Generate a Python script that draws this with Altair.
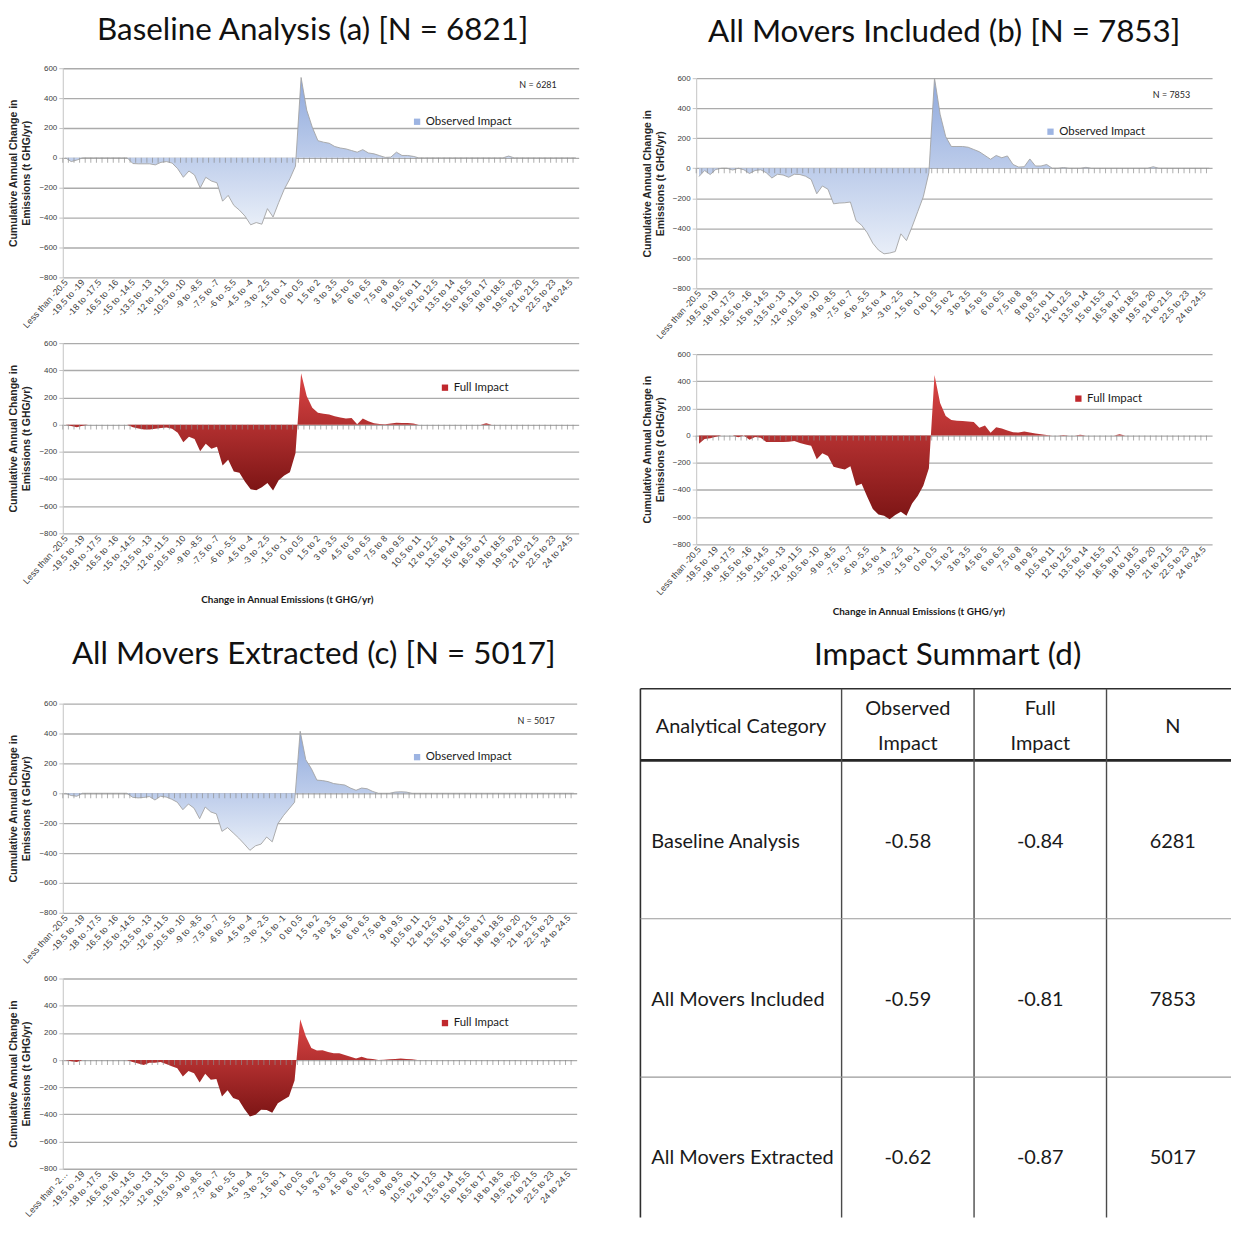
import altair as alt
import pandas as pd

# ---------------- data ----------------
categories = [
    "Less than -20.5", "-20.5 to -20", "-20 to -19.5", "-19.5 to -19", "-19 to -18.5", "-18.5 to -18",
    "-18 to -17.5", "-17.5 to -17", "-17 to -16.5", "-16.5 to -16", "-16 to -15.5", "-15.5 to -15",
    "-15 to -14.5", "-14.5 to -14", "-14 to -13.5", "-13.5 to -13", "-13 to -12.5", "-12.5 to -12",
    "-12 to -11.5", "-11.5 to -11", "-11 to -10.5", "-10.5 to -10", "-10 to -9.5", "-9.5 to -9",
    "-9 to -8.5", "-8.5 to -8", "-8 to -7.5", "-7.5 to -7", "-7 to -6.5", "-6.5 to -6",
    "-6 to -5.5", "-5.5 to -5", "-5 to -4.5", "-4.5 to -4", "-4 to -3.5", "-3.5 to -3",
    "-3 to -2.5", "-2.5 to -2", "-2 to -1.5", "-1.5 to -1", "-1 to -0.5", "-0.5 to 0",
    "0 to 0.5", "0.5 to 1", "1 to 1.5", "1.5 to 2", "2 to 2.5", "2.5 to 3",
    "3 to 3.5", "3.5 to 4", "4 to 4.5", "4.5 to 5", "5 to 5.5", "5.5 to 6",
    "6 to 6.5", "6.5 to 7", "7 to 7.5", "7.5 to 8", "8 to 8.5", "8.5 to 9",
    "9 to 9.5", "9.5 to 10", "10 to 10.5", "10.5 to 11", "11 to 11.5", "11.5 to 12",
    "12 to 12.5", "12.5 to 13", "13 to 13.5", "13.5 to 14", "14 to 14.5", "14.5 to 15",
    "15 to 15.5", "15.5 to 16", "16 to 16.5", "16.5 to 17", "17 to 17.5", "17.5 to 18",
    "18 to 18.5", "18.5 to 19", "19 to 19.5", "19.5 to 20", "20 to 20.5", "20.5 to 21",
    "21 to 21.5", "21.5 to 22", "22 to 22.5", "22.5 to 23", "23 to 23.5", "23.5 to 24",
    "24 to 24.5", "More than 24.5",
]

a_observed = [
    0, -25, -15, 0, 0, 0, 0, 0, 0, 0, 0, 0,
    -38, -40, -40, -40, -47, -30, -25, -35, -73, -130, -88, -115, -202, -130, -155, -167,
    -290, -251, -318, -350, -390, -448, -433, -444, -340, -396, -300, -210, -140, -55,
    538, 320, 205, 115, 105, 98, 76, 66, 60, 49, 38, 55, 33, 27, 15, 3, 5, 38, 16, 16, 10,
    0, 0, 0, 0, 0, 0, 0, 0, 0, 0, 0, 0, 0, 0, 0, 0, 12, 0, 0, 0, 0, 0, 0, 0, 0, 0, 0, 0, 0,
]
a_full = [
    0, -10, -20, -8, 0, 0, 0, 0, 0, 0, 0, 0,
    -20, -28, -35, -35, -30, -25, -22, -30, -60, -130, -90, -105, -195, -140, -178, -162,
    -300, -258, -345, -355, -420, -475, -483, -460, -430, -485, -410, -375, -350, -210,
    378, 210, 125, 88, 80, 75, 62, 53, 46, 48, 2, 45, 25, 10, 5, 3, 8, 14, 12, 12, 8,
    0, 0, 0, 0, 0, 0, 0, 0, 0, 0, 0, 0, 10, 0, 0, 0, 0, 0, 0, 0, 0, 0, 0, 0, 0, 0, 0, 0, 0,
]
b_observed = [
    -55, -15, -42, -8, 0, 0, -12, 0, -10, -35, -15, -10,
    -30, -65, -40, -45, -60, -40, -42, -53, -75, -170, -118, -140, -237, -232, -230, -225,
    -349, -380, -430, -500, -545, -570, -565, -555, -437, -482, -390, -290, -190, -30,
    600, 360, 210, 145, 145, 145, 140, 125, 110, 85, 60, 85, 70, 82, 25, 8, 10, 62, 15, 15, 25,
    0, 0, 5, 0, 0, 0, 6, 0, 0, 0, 0, 0, 0, 0, 0, 0, 0, 0, 10, 0, 0, 0, 0, 0, 0, 0, 0, 0, 0,
]
b_full = [
    -60, -25, -20, -8, 0, 0, 0, -12, 0, -30, -10, -15,
    -48, -48, -48, -48, -45, -40, -55, -65, -75, -175, -130, -150, -230, -240, -250, -225,
    -370, -355, -450, -540, -580, -590, -615, -585, -560, -590, -500, -445, -370, -240,
    445, 240, 145, 115, 110, 108, 104, 100, 58, 75, 20, 62, 52, 38, 25, 22, 30, 22, 15, 10, 5,
    0, 0, 5, 0, 0, 6, 0, 0, 0, 0, 0, 0, 10, 0, 0, 0, 0, 0, 0, 0, 0, 0, 0, 0, 0, 0, 0, 0, 0,
]
c_observed = [
    0, -15, -20, 0, 0, 0, 0, 0, 0, 0, 0, 0,
    -27, -31, -28, -22, -45, -20, -25, -40, -60, -110, -72, -100, -170, -92, -125, -138,
    -255, -230, -265, -300, -340, -382, -352, -340, -293, -325, -204, -150, -105, -60,
    415, 225, 165, 88, 85, 78, 65, 60, 55, 35, 20, 35, 30, 12, 0, 0, 0, 8, 10, 8, 0,
    0, 0, 0, 0, 0, 0, 0, 0, 0, 0, 0, 0, 0, 0, 0, 0, 0, 0, 0, 0, 0, 0, 0, 0, 0, 0, 0, 0, 0,
]
c_full = [
    0, -8, -15, 0, 0, 0, 0, 0, 0, 0, 0, 0,
    -15, -25, -37, -20, -20, -15, -30, -45, -60, -122, -80, -98, -165, -100, -145, -140,
    -268, -222, -280, -295, -360, -415, -403, -366, -368, -388, -318, -293, -268, -150,
    300, 175, 88, 70, 72, 60, 50, 50, 38, 25, 12, 24, 12, 8, 0, 3, 5, 8, 12, 8, 5,
    0, 0, 0, 0, 0, 0, 0, 0, 0, 0, 0, 0, 0, 0, 0, 0, 0, 0, 0, 0, 0, 0, 0, 0, 0, 0, 0, 0, 0,
]

series_names = ["Observed Impact", "Full Impact"]
panel_titles = [
    "Baseline Analysis (a) [N = 6821]",
    "All Movers Included (b) [N = 7853]",
    "All Movers Extracted (c) [N = 5017]",
    "Impact Summart (d)",
]
panel_n = [6281, 7853, 5017]
y_title = ["Cumulative Annual Change in", "Emissions (t GHG/yr)"]
x_title = "Change in Annual Emissions (t GHG/yr)"
y_ticks = [-800, -600, -400, -200, 0, 200, 400, 600]

table_header = ["Analytical Category", "Observed Impact", "Full Impact", "N"]
table_categories = ["Baseline Analysis", "All Movers Included", "All Movers Extracted"]
table_observed = [-0.58, -0.59, -0.62]
table_full = [-0.84, -0.81, -0.87]
table_n = [6281, 7853, 5017]

# ---------------- style ----------------
NARROW = "Lato, Liberation Sans, sans-serif"
SANS = "Liberation Sans, Arial, sans-serif"
TITLE_SIZE = 31.5

OBS_FILL = alt.Gradient(
    gradient="linear", x1=0, x2=0, y1=0, y2=1,
    stops=[alt.GradientStop(color="#8ea8dc", offset=0), alt.GradientStop(color="#e8eef8", offset=1)],
)
FULL_FILL = alt.Gradient(
    gradient="linear", x1=0, x2=0, y1=0, y2=1,
    stops=[alt.GradientStop(color="#dc4545", offset=0), alt.GradientStop(color="#7d1515", offset=1)],
)
SYMBOL = {"Observed Impact": "#9db4e2", "Full Impact": "#c0282d"}


def title_params(text, offset, dx):
    return alt.TitleParams(text, font=NARROW, fontSize=TITLE_SIZE, fontWeight="normal",
                           color="#111111", anchor="middle", offset=offset, dx=dx)


def impact_panel(values, series, width, height, n_text=None, with_xtitle=False,
                 xtitle_x=0, xtitle_y=61, legend_x=350, legend_y=48, label_limit=0):
    df = pd.DataFrame({"category": categories, "value": values})
    n_cat = len(categories)
    step = width / n_cat

    xaxis_kw = dict(
        values=categories[::3], labelAngle=-48, labelAlign="right", labelBaseline="middle",
        labelFont=SANS, labelFontSize=9, labelColor="#404040", labelPadding=3,
        labelOverlap=False, ticks=False, domain=False, grid=False,
    )
    if label_limit:
        xaxis_kw.update(labelLimit=label_limit)
    if with_xtitle:
        xaxis_kw.update(title=x_title, titleFont=NARROW, titleFontSize=10, titleFontWeight="bold",
                        titleColor="#1a1a1a", titleX=xtitle_x, titleY=xtitle_y, titleBaseline="top",
                        titleAlign="center", titleAnchor="start")
    else:
        xaxis_kw.update(title=None)

    x_enc = alt.X("category:O", sort=categories,
                  scale=alt.Scale(type="point", padding=0.5), axis=alt.Axis(**xaxis_kw))
    y_axis = alt.Axis(
        values=y_ticks, grid=True, gridColor="#ababab", gridWidth=1.3,
        domain=True, domainColor="#c4c4c4", ticks=True, tickColor="#c4c4c4", tickSize=4,
        labelFont=SANS, labelFontSize=8, labelColor="#404040", labelPadding=2,
        title=y_title, titleFont=SANS, titleFontSize=10.5, titleFontWeight="bold",
        titleColor="#262626", titlePadding=7, titleLineHeight=13,
    )
    y_scale = alt.Scale(domain=[-800, 600], nice=False)
    y_enc = alt.Y("value:Q", scale=y_scale, axis=y_axis)

    fill = OBS_FILL if series == "Observed Impact" else FULL_FILL
    layers = [alt.Chart(df).mark_area(color=fill, clip=True).encode(x=x_enc, y=y_enc)]
    if series == "Observed Impact":
        layers.append(alt.Chart(df).mark_line(color="#a3a3a3", strokeWidth=0.9, clip=True)
                      .encode(x=x_enc, y=y_enc))

    # category tick marks sitting on the zero line
    layers.append(
        alt.Chart(df).transform_calculate(zero="0")
        .mark_tick(orient="vertical", size=5, thickness=1, color="#8c8c8c",
                   xOffset=-step / 2, yOffset=2.5)
        .encode(x=x_enc, y=alt.Y("zero:Q", scale=y_scale, axis=y_axis))
    )

    # legend (inside the plot, upper right)
    layers.append(
        alt.Chart(pd.DataFrame({"series": [series]}))
        .mark_square(opacity=0, size=1)
        .encode(color=alt.Color(
            "series:N",
            scale=alt.Scale(domain=[series], range=[SYMBOL[series]]),
            legend=alt.Legend(title=None, orient="none", legendX=legend_x, legendY=legend_y,
                              symbolType="square", symbolSize=40, symbolOpacity=1,
                              symbolStrokeWidth=0, labelFont=NARROW, labelFontSize=11.5,
                              labelColor="#1a1a1a", labelOffset=3, padding=0),
        ))
    )
    if n_text is not None:
        layers.append(
            alt.Chart(pd.DataFrame({"label": [f"N = {n_text}"]}))
            .mark_text(align="right", baseline="middle", font=NARROW, fontSize=9, color="#262626")
            .encode(text="label:N", x=alt.value(width - 22), y=alt.value(17))
        )
    return alt.layer(*layers).properties(width=width, height=height)


def quadrant(obs_vals, full_vals, width, title, title_offset, title_dx, n_text,
             xtitle, xtitle_x, xtitle_y=61, obs_h=210, full_h=191, label_limit=0, drop=0):
    top = impact_panel(obs_vals, "Observed Impact", width, obs_h, n_text=n_text,
                       legend_x=350, legend_y=48)
    bottom = impact_panel(full_vals, "Full Impact", width, full_h, with_xtitle=xtitle,
                          xtitle_x=xtitle_x, xtitle_y=xtitle_y, legend_x=378, legend_y=39,
                          label_limit=label_limit)
    inner = alt.vconcat(top, bottom, spacing=66, bounds="flush")
    if not drop:
        return inner.properties(title=title_params(title, title_offset, title_dx)) \
            .resolve_scale(color="independent").resolve_legend(color="independent")
    inner = inner.resolve_scale(color="independent").resolve_legend(color="independent")
    # an empty, invisible strip that lowers this quadrant's panels a little
    spacer = (
        alt.Chart(pd.DataFrame({"s": [0]})).mark_rule(strokeOpacity=0, opacity=0)
        .encode(x=alt.value(0), y=alt.value(0), y2=alt.value(1))
        .properties(width=width, height=1)
    )
    return alt.vconcat(spacer, inner, spacing=drop, title=title_params(title, title_offset, title_dx)) \
        .resolve_scale(color="independent").resolve_legend(color="independent")


quad_a = quadrant(a_observed, a_full, 518, panel_titles[0], 17.5, 19, panel_n[0], True, 225, 61)
quad_b = quadrant(b_observed, b_full, 518, panel_titles[1], 19.5, 17, panel_n[1], True, 223, 62,
                  obs_h=211, drop=5)
quad_c = quadrant(c_observed, c_full, 516, panel_titles[2], 29.5, 21, panel_n[2], False, 0,
                  label_limit=60)

# ---------------- summary table ----------------
TABLE_W, TABLE_H, TABLE_SHIFT = 593, 516, 15
col_edges = [0, 202, 335, 468, 601]
header_h, row_h = 72, 159
col_centers = [(col_edges[i] + col_edges[i + 1]) / 2 for i in range(4)]
y_end = TABLE_H + TABLE_SHIFT

lines = []
lines.append(dict(x=0, x2=TABLE_W, y=0, y2=0, kind="outer"))
lines.append(dict(x=0, x2=0, y=0, y2=y_end, kind="outer"))
lines.append(dict(x=0, x2=TABLE_W, y=header_h, y2=header_h, kind="header"))
for ce in col_edges[1:4]:
    lines.append(dict(x=ce, x2=ce, y=0, y2=y_end, kind="col"))
for k in range(1, len(table_categories)):
    yy = header_h + k * row_h
    lines.append(dict(x=0, x2=TABLE_W, y=yy, y2=yy, kind="row"))
lines_df = pd.DataFrame(lines)

cells = []
for j, h in enumerate(table_header):
    two_line = " " in h and j > 0
    txt = h.replace(" ", "\n") if two_line else h
    cells.append(dict(tx=col_centers[j], ty=20 if two_line else 38, text=txt, align="center"))
for i, cat in enumerate(table_categories):
    cy = header_h + (i + 0.5) * row_h + 2
    cells.append(dict(tx=11, ty=cy, text=cat, align="left"))
    cells.append(dict(tx=col_centers[1], ty=cy, text=f"{table_observed[i]:.2f}", align="center"))
    cells.append(dict(tx=col_centers[2], ty=cy, text=f"{table_full[i]:.2f}", align="center"))
    cells.append(dict(tx=col_centers[3], ty=cy, text=f"{table_n[i]}", align="center"))
cells_df = pd.DataFrame(cells)

tx_scale = alt.Scale(domain=[0, TABLE_W], nice=False, zero=False)
ty_scale = alt.Scale(domain=[0, TABLE_H], nice=False, zero=False, reverse=True)

line_styles = {"outer": ("#2e2e2e", 1.6), "header": ("#262626", 2.6), "col": ("#4a4a4a", 1.4), "row": ("#9a9a9a", 1.2)}
table_layers = []
for kind, (col, sw) in line_styles.items():
    table_layers.append(
        alt.Chart(lines_df).transform_filter(alt.datum.kind == kind)
        .mark_rule(color=col, strokeWidth=sw, clip=False, yOffset=-TABLE_SHIFT, y2Offset=-TABLE_SHIFT)
        .encode(x=alt.X("x:Q", scale=tx_scale, axis=None), x2="x2:Q",
                y=alt.Y("y:Q", scale=ty_scale, axis=None), y2="y2:Q")
    )
for al in ["center", "left"]:
    table_layers.append(
        alt.Chart(cells_df).transform_filter(alt.datum.align == al)
        .mark_text(align=al, baseline="middle", font=NARROW, fontSize=20, color="#1a1a1a",
                   lineBreak="\n", lineHeight=36, yOffset=-TABLE_SHIFT)
        .encode(x=alt.X("tx:Q", scale=tx_scale, axis=None),
                y=alt.Y("ty:Q", scale=ty_scale, axis=None), text="text:N")
    )
table_chart = alt.layer(*table_layers).properties(
    width=TABLE_W, height=TABLE_H, title=title_params(panel_titles[3], 16.5, 12),
)

row1 = alt.hconcat(quad_a, quad_b, spacing=63).resolve_scale(color="independent").resolve_legend(color="independent")
row2 = alt.hconcat(quad_c, table_chart, spacing=62).resolve_scale(color="independent").resolve_legend(color="independent")

chart = (
    alt.vconcat(row1, row2, spacing=23, padding={"top": 5, "left": 0, "right": 0, "bottom": 0})
    .resolve_scale(color="independent").resolve_legend(color="independent")
    .configure_view(stroke=None)
)

chart.save("out.html", embed_options={"renderer": "svg", "actions": False})
